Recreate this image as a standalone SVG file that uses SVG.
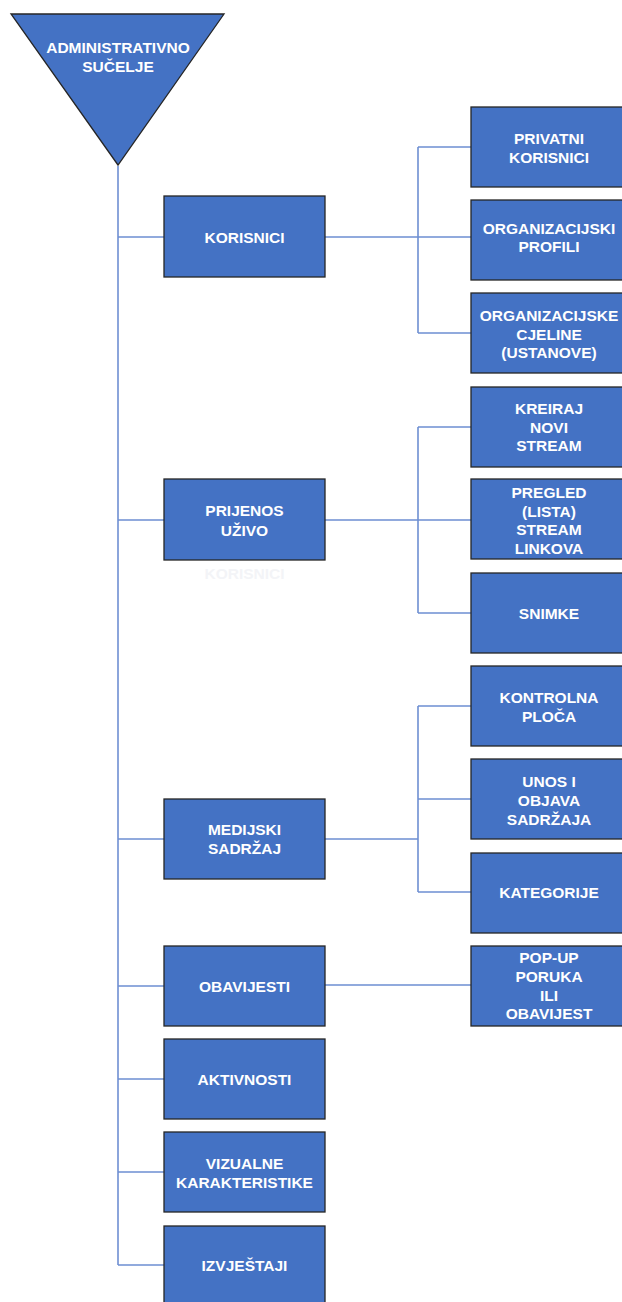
<svg xmlns="http://www.w3.org/2000/svg" width="622" height="1302" viewBox="0 0 622 1302">
<style>
.n{fill:#4472C4;stroke:#262626;stroke-width:1.3}
.t{font-family:"Liberation Sans",Arial,sans-serif;font-weight:bold;font-size:15.5px;fill:#ffffff;text-anchor:middle}
.c{fill:none;stroke:#6e8fd2;stroke-width:1.6}
</style>
<rect width="622" height="1302" fill="#ffffff"/>
<g id="connectors">
<path class="c" d="M118 166V1265"/>
<path class="c" d="M118 237H164M325 237H471M418 147V333M418 147H471M418 333H471"/>
<path class="c" d="M118 520H164M325 520H471M418 427V613M418 427H471M418 613H471"/>
<path class="c" d="M118 839H164M325 839H418M418 706V892M418 706H471M418 799H471M418 892H471"/>
<path class="c" d="M118 986H164M325 985H471"/>
<path class="c" d="M118 1079H164M118 1172H164M118 1265H164"/>
</g>
<g id="root">
<polygon class="n" points="11,14 224,14 118,165"/>
<text class="t"><tspan x="118" y="53">ADMINISTRATIVNO</tspan><tspan x="118" y="71.5">SUČELJE</tspan></text>
</g>
<g id="korisnici"><rect class="n" x="164" y="196" width="161" height="81"/><text class="t" x="244.5" y="243">KORISNICI</text></g>
<g id="prijenos"><rect class="n" x="164" y="479" width="161" height="81"/><text class="t"><tspan x="244.5" y="516">PRIJENOS</tspan><tspan x="244.5" y="535.5">UŽIVO</tspan></text>
<text class="t" x="244.5" y="579" style="fill:#f3f4f7">KORISNICI</text></g>
<g id="medijski"><rect class="n" x="164" y="799" width="161" height="80"/><text class="t"><tspan x="244.5" y="835">MEDIJSKI</tspan><tspan x="244.5" y="854">SADRŽAJ</tspan></text></g>
<g id="obavijesti"><rect class="n" x="164" y="946" width="161" height="80"/><text class="t" x="244.5" y="991.5">OBAVIJESTI</text></g>
<g id="aktivnosti"><rect class="n" x="164" y="1039" width="161" height="80"/><text class="t" x="244.5" y="1085">AKTIVNOSTI</text></g>
<g id="vizualne"><rect class="n" x="164" y="1132" width="161" height="80"/><text class="t"><tspan x="244.5" y="1169">VIZUALNE</tspan><tspan x="244.5" y="1188">KARAKTERISTIKE</tspan></text></g>
<g id="izvjestaji"><rect class="n" x="164" y="1226" width="161" height="80"/><text class="t" x="244.5" y="1271">IZVJEŠTAJI</text></g>
<g id="privatni"><rect class="n" x="471" y="107" width="156" height="80"/><text class="t"><tspan x="549" y="143.5">PRIVATNI</tspan><tspan x="549" y="162.5">KORISNICI</tspan></text></g>
<g id="orgprofili"><rect class="n" x="471" y="200" width="156" height="80"/><text class="t"><tspan x="549" y="233.5">ORGANIZACIJSKI</tspan><tspan x="549" y="252">PROFILI</tspan></text></g>
<g id="orgcjeline"><rect class="n" x="471" y="293" width="156" height="80"/><text class="t"><tspan x="549" y="321">ORGANIZACIJSKE</tspan><tspan x="549" y="339.5">CJELINE</tspan><tspan x="549" y="358">(USTANOVE)</tspan></text></g>
<g id="kreiraj"><rect class="n" x="471" y="387" width="156" height="80"/><text class="t"><tspan x="549" y="414">KREIRAJ</tspan><tspan x="549" y="433">NOVI</tspan><tspan x="549" y="451">STREAM</tspan></text></g>
<g id="pregled"><rect class="n" x="471" y="479" width="156" height="80"/><text class="t"><tspan x="549" y="498">PREGLED</tspan><tspan x="549" y="517">(LISTA)</tspan><tspan x="549" y="535">STREAM</tspan><tspan x="549" y="554">LINKOVA</tspan></text></g>
<g id="snimke"><rect class="n" x="471" y="573" width="156" height="80"/><text class="t" x="549" y="619">SNIMKE</text></g>
<g id="kontrolna"><rect class="n" x="471" y="666" width="156" height="80"/><text class="t"><tspan x="549" y="703">KONTROLNA</tspan><tspan x="549" y="721.5">PLOČA</tspan></text></g>
<g id="unos"><rect class="n" x="471" y="759" width="156" height="80"/><text class="t"><tspan x="549" y="787">UNOS I</tspan><tspan x="549" y="805.5">OBJAVA</tspan><tspan x="549" y="824.5">SADRŽAJA</tspan></text></g>
<g id="kategorije"><rect class="n" x="471" y="853" width="156" height="80"/><text class="t" x="549" y="898">KATEGORIJE</text></g>
<g id="popup"><rect class="n" x="471" y="946" width="156" height="80"/><text class="t"><tspan x="549" y="963">POP-UP</tspan><tspan x="549" y="982">PORUKA</tspan><tspan x="549" y="1001">ILI</tspan><tspan x="549" y="1019">OBAVIJEST</tspan></text></g>
</svg>
